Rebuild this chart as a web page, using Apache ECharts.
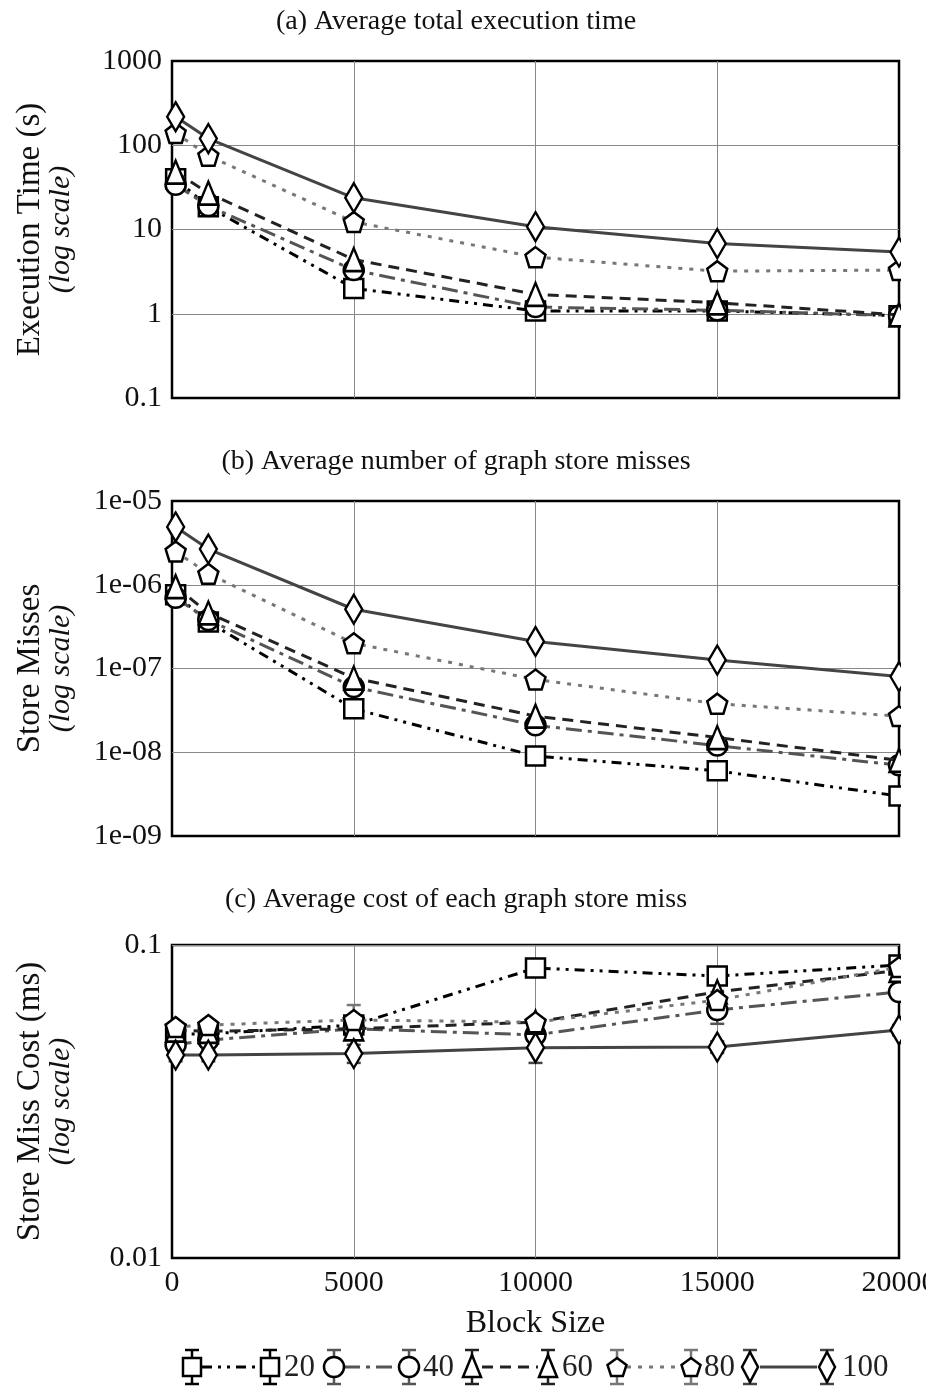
<!DOCTYPE html>
<html>
<head>
<meta charset="utf-8">
<script src="https://cdn.jsdelivr.net/npm/echarts@6/dist/echarts.min.js"></script>
<style>
  html, body { margin: 0; padding: 0; background: #fff; }
  #chart { width: 926px; height: 1390px; }
</style>
</head>
<body>
<div id="chart"></div>
<script>
  // block sizes on the x axis
  const blockSizes = [100, 1000, 5000, 10000, 15000, 20000];
  const groupNames = ['20', '40', '60', '80', '100'];

  // (a) average total execution time (s)
  const time20 = [40, 18.6, 2.0, 1.08, 1.08, 0.95];
  const time40 = [34, 19, 3.3, 1.2, 1.1, 0.95];
  const time60 = [48, 27, 4.4, 1.7, 1.35, 0.97];
  const time80 = [140, 75, 12.3, 4.7, 3.2, 3.3];
  const time100 = [218, 120, 23.8, 10.8, 6.8, 5.4];

  // (b) average number of graph store misses
  const misses20 = [7.6e-7, 3.6e-7, 3.3e-8, 9e-9, 6e-9, 3e-9];
  const misses40 = [7e-7, 3.8e-7, 6e-8, 2.1e-8, 1.2e-8, 7e-9];
  const misses60 = [9.5e-7, 4.6e-7, 7.7e-8, 2.7e-8, 1.5e-8, 8e-9];
  const misses80 = [2.5e-6, 1.35e-6, 2.0e-7, 7.4e-8, 3.8e-8, 2.7e-8];
  const misses100 = [4.9e-6, 2.67e-6, 5.1e-7, 2.1e-7, 1.26e-7, 8e-8];

  // (c) average cost of each graph store miss (ms) and error bar half widths
  const cost20 = [0.052, 0.052, 0.0555, 0.0844, 0.0796, 0.0863];
  const cost40 = [0.048, 0.0497, 0.054, 0.0516, 0.062, 0.0708];
  const cost60 = [0.0535, 0.053, 0.054, 0.0567, 0.0708, 0.083];
  const cost80 = [0.0547, 0.0555, 0.0576, 0.0567, 0.0667, 0.085];
  const cost100 = [0.0445, 0.0445, 0.045, 0.047, 0.0472, 0.0535];
  const err20 = [0.001, 0.001, 0.002, 0.002, 0.0035, 0.002];
  const err40 = [0.002, 0.002, 0.003, 0.002, 0.006, 0.003];
  const err60 = [0.001, 0.001, 0.002, 0.002, 0.004, 0.003];
  const err80 = [0.001, 0.002, 0.0067, 0.002, 0.004, 0.003];
  const err100 = [0.002, 0.002, 0.003, 0.005, 0.002, 0.002];

  const timeData = [time20, time40, time60, time80, time100];
  const missData = [misses20, misses40, misses60, misses80, misses100];
  const costData = [cost20, cost40, cost60, cost80, cost100];
  const errData = [err20, err40, err60, err80, err100];

  const FONT = '"Liberation Serif", "DejaVu Serif", serif';
  const pentagon = 'path://M0,-10L9.51,-3.09L5.88,8.09L-5.88,8.09L-9.51,-3.09Z';

  // style for each group: line colour, dash, marker
  const styles = [
    { color: '#000', dash: [10, 6, 3, 6, 3, 6], symbol: 'rect', size: 19, legendKind: 'rect' },
    { color: '#555', dash: [16, 6, 4, 6], symbol: 'circle', size: 20, legendKind: 'circle' },
    { color: '#222', dash: [11, 7], symbol: 'triangle', size: [19, 23], legendKind: 'triangle' },
    { color: '#777', dash: [4, 7], symbol: pentagon, size: 20, legendKind: 'pentagon' },
    { color: '#444', dash: 'solid', symbol: 'diamond', size: [17, 29], legendKind: 'diamond' },
  ];

  const grids = [
    { left: 172, right: 27, top: 61, height: 337 },
    { left: 172, right: 27, top: 501, height: 335 },
    { left: 172, right: 27, top: 945, height: 313 },
  ];

  const logName = (t) => '{a|' + t + '}\n{b|(log scale)}';
  const nameRich = {
    a: { fontFamily: FONT, fontSize: 33, color: '#111', lineHeight: 31 },
    b: { fontFamily: FONT, fontSize: 30, fontStyle: 'italic', color: '#111', lineHeight: 31 },
  };

  const expLabel = (v) => {
    const e = Math.round(Math.log10(v));
    const s = Math.abs(e) < 10 ? '0' + Math.abs(e) : String(Math.abs(e));
    return '1e' + (e < 0 ? '-' : '+') + s;
  };

  const xAxes = grids.map((g, i) => ({
    type: 'value',
    gridIndex: i,
    min: 0,
    max: 20000,
    interval: 5000,
    axisLine: { show: false },
    axisTick: { show: false },
    axisLabel: {
      show: i === 2,
      fontFamily: FONT,
      fontSize: 30,
      color: '#111',
      margin: 10,
      formatter: (v) => String(v),
    },
    splitLine: { show: true, showMinLine: false, showMaxLine: false, lineStyle: { color: '#888', width: 1 } },
    name: i === 2 ? 'Block Size' : '',
    nameLocation: 'middle',
    nameGap: 50,
    nameTextStyle: { fontFamily: FONT, fontSize: 32, color: '#111' },
  }));

  const yCommon = {
    type: 'log',
    logBase: 10,
    axisLine: { show: false },
    axisTick: { show: false },
    splitLine: { show: true, showMinLine: false, showMaxLine: false, lineStyle: { color: '#888', width: 1 } },
    nameLocation: 'middle',
    nameRotate: 90,
    nameGap: 95,
    nameTextStyle: { rich: nameRich },
  };

  const plainLabel = (v) => String(Number(v.toPrecision(3)));
  const yAxes = [
    Object.assign({}, yCommon, {
      gridIndex: 0, min: 0.1, max: 1000,
      name: logName('Execution Time (s)'),
      axisLabel: { fontFamily: FONT, fontSize: 30, color: '#111', margin: 10, formatter: plainLabel },
    }),
    Object.assign({}, yCommon, {
      gridIndex: 1, min: 1e-9, max: 1e-5,
      name: logName('Store Misses'),
      axisLabel: { fontFamily: FONT, fontSize: 30, color: '#111', margin: 10, formatter: expLabel },
    }),
    Object.assign({}, yCommon, {
      gridIndex: 2, min: 0.01, max: 0.1,
      name: logName('Store Miss Cost (ms)'),
      axisLabel: { fontFamily: FONT, fontSize: 30, color: '#111', margin: 10, formatter: plainLabel },
    }),
  ];

  const lineSeries = (values, g, i) => ({
    name: groupNames[g],
    type: 'line',
    xAxisIndex: i,
    yAxisIndex: i,
    data: blockSizes.map((b, k) => [b, values[k]]),
    symbol: styles[g].symbol,
    symbolSize: styles[g].size,
    z: 3 + g,
    lineStyle: { color: styles[g].color, width: 3, type: styles[g].dash },
    itemStyle: { color: '#fff', borderColor: '#000', borderWidth: 2.5 },
    emphasis: { disabled: true },
  });

  const errorSeries = (values, errs, g) => ({
    type: 'custom',
    xAxisIndex: 2,
    yAxisIndex: 2,
    z: 2,
    data: blockSizes.map((b, k) => [b, values[k] - errs[k], values[k] + errs[k]]),
    encode: { x: 0, y: [1, 2] },
    renderItem: (params, api) => {
      const top = api.coord([api.value(0), api.value(2)]);
      const bot = api.coord([api.value(0), api.value(1)]);
      const w = 7;
      const st = { stroke: styles[g].color, lineWidth: 2.5 };
      return {
        type: 'group',
        children: [
          { type: 'line', shape: { x1: top[0], y1: top[1], x2: bot[0], y2: bot[1] }, style: st },
          { type: 'line', shape: { x1: top[0] - w, y1: top[1], x2: top[0] + w, y2: top[1] }, style: st },
          { type: 'line', shape: { x1: bot[0] - w, y1: bot[1], x2: bot[0] + w, y2: bot[1] }, style: st },
        ],
      };
    },
  });

  const series = [];
  errData.forEach((errs, g) => series.push(errorSeries(costData[g], errs, g)));
  timeData.forEach((v, g) => series.push(lineSeries(v, g, 0)));
  missData.forEach((v, g) => series.push(lineSeries(v, g, 1)));
  costData.forEach((v, g) => series.push(lineSeries(v, g, 2)));

  // hand-made legend: symbol - line - symbol - label, with error bars
  const legendY = 1367;
  const legendPos = [
    { x1: 192, x2: 270, tx: 284 },
    { x1: 334, x2: 409, tx: 423 },
    { x1: 472, x2: 548, tx: 562 },
    { x1: 617, x2: 691, tx: 704 },
    { x1: 750, x2: 827, tx: 842 },
  ];

  const legendSymbol = (kind, cx, cy) => {
    const st = { fill: '#fff', stroke: '#000', lineWidth: 2.5 };
    if (kind === 'rect') return { type: 'rect', shape: { x: cx - 9, y: cy - 9, width: 18, height: 18 }, style: st };
    if (kind === 'circle') return { type: 'circle', shape: { cx: cx, cy: cy, r: 10 }, style: st };
    if (kind === 'triangle') return { type: 'polygon', shape: { points: [[cx, cy - 12], [cx + 9, cy + 10], [cx - 9, cy + 10]] }, style: st };
    if (kind === 'diamond') return { type: 'polygon', shape: { points: [[cx, cy - 15], [cx + 8, cy], [cx, cy + 15], [cx - 8, cy]] }, style: st };
    const pts = [];
    for (let k = 0; k < 5; k++) {
      const a = -Math.PI / 2 + k * 2 * Math.PI / 5;
      pts.push([cx + 10 * Math.cos(a), cy + 1 + 10 * Math.sin(a)]);
    }
    return { type: 'polygon', shape: { points: pts }, style: st };
  };

  const legendBar = (cx, cy, color) => {
    const st = { stroke: color, lineWidth: 2.5 };
    return [
      { type: 'line', shape: { x1: cx, y1: cy - 17, x2: cx, y2: cy + 17 }, style: st },
      { type: 'line', shape: { x1: cx - 7, y1: cy - 17, x2: cx + 7, y2: cy - 17 }, style: st },
      { type: 'line', shape: { x1: cx - 7, y1: cy + 17, x2: cx + 7, y2: cy + 17 }, style: st },
    ];
  };

  const graphic = [];
  legendPos.forEach((p, g) => {
    const s = styles[g];
    graphic.push(...legendBar(p.x1, legendY, s.color), ...legendBar(p.x2, legendY, s.color));
    graphic.push({
      type: 'line',
      shape: { x1: p.x1 + 10, y1: legendY, x2: p.x2 - 10, y2: legendY },
      style: { stroke: s.color, lineWidth: 3, lineDash: s.dash === 'solid' ? null : s.dash },
    });
    graphic.push(legendSymbol(s.legendKind, p.x1, legendY), legendSymbol(s.legendKind, p.x2, legendY));
    graphic.push({
      type: 'text',
      x: p.tx,
      y: legendY + 1,
      style: { text: groupNames[g], font: '31px ' + FONT, fill: '#222', verticalAlign: 'middle' },
    });
  });
  // right edge clipping of markers, like the original plot
  [[50, 360], [490, 358], [930, 330]].forEach(([y, h]) => {
    graphic.push({ type: 'rect', z: 100, shape: { x: 901, y: y, width: 40, height: h }, style: { fill: '#fff' } });
  });

  const titleStyle = { fontFamily: FONT, fontSize: 28, fontWeight: 'normal', color: '#111' };
  const option = {
    animation: false,
    backgroundColor: '#fff',
    title: [
      { text: '(a) Average total execution time', left: 451, textAlign: 'center', top: 3, textStyle: titleStyle },
      { text: '(b) Average number of graph store misses', left: 451, textAlign: 'center', top: 443, textStyle: titleStyle },
      { text: '(c) Average cost of each graph store miss', left: 451, textAlign: 'center', top: 881, textStyle: titleStyle },
    ],
    grid: grids.map((g) => Object.assign({ show: true, borderColor: '#000', borderWidth: 2.5, outerBoundsMode: 'none' }, g)),
    xAxis: xAxes,
    yAxis: yAxes,
    series: series,
    graphic: graphic,
  };

  const myChart = echarts.init(document.getElementById('chart'));
  myChart.setOption(option);
</script>
</body>
</html>
